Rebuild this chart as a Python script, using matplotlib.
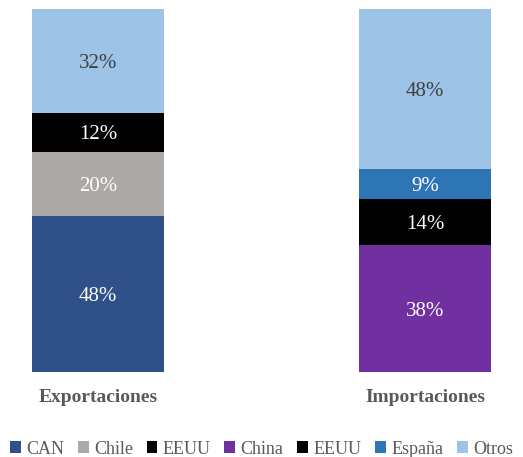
import matplotlib
matplotlib.use("Agg")
import matplotlib.pyplot as plt
import numpy as np
from matplotlib.patches import Patch

categories = ["Exportaciones", "Importaciones"]
series_names = ["CAN", "Chile", "EEUU", "China", "EEUU", "España", "Otros"]
series_values = [
    [48, 0],
    [20, 0],
    [12, 0],
    [0, 38],
    [0, 14],
    [0, 9],
    [32, 48],
]
colors = ["#2F5089", "#ABA8A6", "#000000", "#7030A0", "#000000", "#2E75B6", "#9DC3E6"]
text_colors = ["white", "white", "white", "white", "white", "white", "#404040"]

plt.rcParams['font.family'] = ['Liberation Serif', 'DejaVu Serif']

fig = plt.figure(figsize=(5.23, 4.57), dpi=100)
ax = fig.add_axes([0, 85/457, 1, (372-9)/457])

vals = np.array(series_values, dtype=float)
totals = vals.sum(axis=0)
x = np.arange(len(categories))
width = 132/327
bottom = np.zeros(len(categories))
for name, v, c, tc in zip(series_names, vals, colors, text_colors):
    h = v / totals
    ax.bar(x, h, width, bottom=bottom, color=c, linewidth=0)
    for xi, hi, bi, vi in zip(x, h, bottom, v):
        if vi > 0:
            ax.text(xi, bi + hi/2, f"{int(vi)}%", ha="center", va="center_baseline",
                    color=tc, fontsize=15)
    bottom += h

ax.set_xlim(-98/327, 425/327)
ax.set_ylim(0, 1)
ax.axis("off")

for xi, cat in zip(x, categories):
    ax.text(xi, -25/363, cat, ha="center", va="center", fontsize=14,
            fontweight="bold", color="#595959", transform=ax.transData)

handles = [Patch(facecolor=c, edgecolor="none") for c in colors]
fig.legend(handles, series_names, loc="center", bbox_to_anchor=(0.5, 8/457),
           ncol=7, frameon=False, fontsize=13, handlelength=0.6, handleheight=0.6,
           handletextpad=0.3, columnspacing=0.75, labelcolor="#595959",
           borderpad=0, borderaxespad=0)

fig.savefig("out.png", dpi=100)
